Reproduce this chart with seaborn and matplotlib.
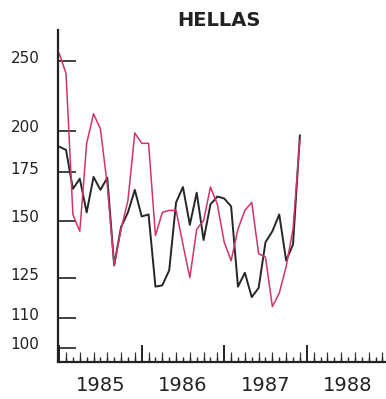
import numpy as np
import pandas as pd
import matplotlib
matplotlib.use("Agg")
import matplotlib.pyplot as plt
import matplotlib.transforms as mtrans
import seaborn as sns

# monthly observations, Jan 1985 .. Dec 1987
months = np.arange(1985, 1988, 1 / 12)

black_vals = [190, 188, 166, 171.5, 154, 172.5, 165.5, 172, 130, 147, 154, 165.5,
              152, 153, 121.5, 122, 128, 159, 167, 148, 164, 141, 158, 162,
              161, 157, 121.5, 127, 117.5, 121, 140, 145, 153, 132, 139, 197]
pink_vals = [256, 240, 153, 145, 192, 211, 201, 168, 130, 146, 160, 198.5,
             192, 192, 143, 154, 155, 155, 139, 125, 146, 150, 167, 158,
             140, 132, 146, 155, 159, 135, 133.5, 114, 119, 129.5, 146, 194]

ytick_vals = [100, 110, 125, 150, 175, 200, 250]
year_ticks = [1985, 1986, 1987, 1988]
year_labels = ["1985", "1986", "1987", "1988"]

df = pd.DataFrame({
    "date": np.concatenate([months, months]),
    "value": black_vals + pink_vals,
    "series": ["a"] * len(months) + ["b"] * len(months),
})

sns.set_style("ticks")
plt.rcParams["font.family"] = ["DejaVu Sans"]

fig = plt.figure(figsize=(3.86, 3.99), dpi=100)
ax = fig.add_axes([57.5 / 386, 37.3 / 399, 328.5 / 386, 332 / 399])

sns.lineplot(data=df, x="date", y="value", hue="series",
             palette={"a": "#262626", "b": "#d4336a"},
             legend=False, ax=ax)
ax.lines[0].set_linewidth(1.4)
ax.lines[1].set_linewidth(1.1)

ax.set_yscale("log")
ax.set_ylim(95.6, 276)
ax.set_xlim(1984.98, 1988.96)

ax.set_yticks(ytick_vals)
ax.set_yticklabels([str(v) for v in ytick_vals])
ax.yaxis.set_minor_locator(matplotlib.ticker.NullLocator())
ax.tick_params(axis="y", direction="in", length=13, width=1.2, pad=13,
               labelsize=11, color="#222222", labelcolor="#222222")
# labels sit a little above their ticks in the original
for lab in ax.get_yticklabels():
    lab.set_transform(lab.get_transform() +
                      mtrans.ScaledTranslation(0, 3 / 72, fig.dpi_scale_trans))

# year boundaries + monthly minor ticks
ax.set_xticks(year_ticks)
ax.set_xticklabels([])
ax.set_xticks(months.tolist() + list(np.arange(1988, 1989, 1 / 12)), minor=True)
ax.tick_params(axis="x", which="major", direction="in", length=12, width=1.4,
               color="#222222")
ax.tick_params(axis="x", which="minor", direction="in", length=3.5, width=1,
               color="#222222")

# taller tick every second month
sec = ax.secondary_xaxis("bottom")
sec.spines["bottom"].set_visible(False)
sec.set_xticks(list(np.arange(1985 + 1 / 12, 1989, 2 / 12)))
sec.set_xticklabels([])
sec.tick_params(axis="x", direction="in", length=7, width=0.9, color="#333333")

# year labels centred between the boundaries
lab_ax = ax.secondary_xaxis("bottom")
lab_ax.spines["bottom"].set_visible(False)
lab_ax.set_xticks([y + 0.5 for y in year_ticks])
lab_ax.set_xticklabels(year_labels)
lab_ax.tick_params(axis="x", length=0, pad=10, labelsize=14,
                   labelcolor="#222222")

ax.set_xlabel("")
ax.set_ylabel("")
for s in ["top", "right"]:
    ax.spines[s].set_visible(False)
ax.spines["left"].set_linewidth(1.6)
ax.spines["bottom"].set_linewidth(1.6)
ax.spines["left"].set_color("#222222")
ax.spines["bottom"].set_color("#222222")

fig.text(219 / 386, 1 - 20 / 399, "HELLAS", ha="center", va="center",
         fontsize=14, fontweight="bold", color="#222222")

fig.savefig("out.png", dpi=100)
